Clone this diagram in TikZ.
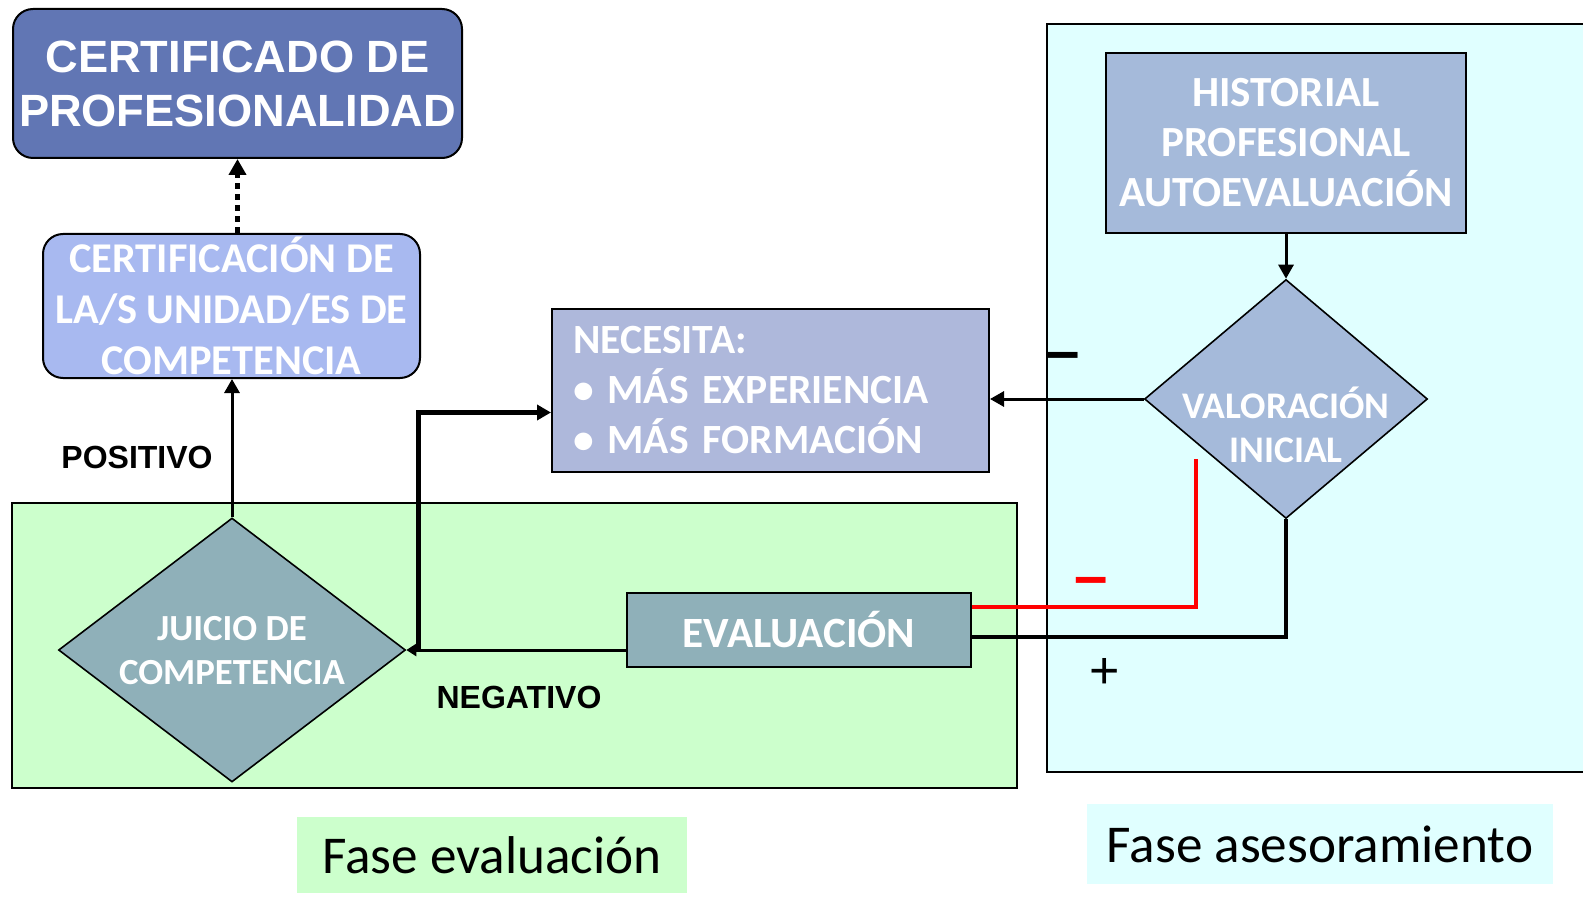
\documentclass[tikz,border=0pt]{standalone}
\usepackage{fontspec}
\setmainfont{Carlito}
\newfontfamily\arialfont{Liberation Sans}
\usepackage{tikz}
\usetikzlibrary{
    arrows.meta,
    shapes.geometric,
    calc,
    positioning
}
\definecolor{certblue}{RGB}{97,118,180}
\definecolor{unitblue}{RGB}{168,185,240}
\definecolor{tealgrey}{RGB}{143,176,185}
\definecolor{lavgrey}{RGB}{174,184,219}
\definecolor{histblue}{RGB}{165,186,218}
\definecolor{evalgreen}{RGB}{204,255,204}
\definecolor{advcyan}{RGB}{224,255,255}
\pgfdeclareradialshading{vignette}{\pgfpoint{0bp}{0bp}}{color(0bp)=(white); color(36bp)=(white); color(55bp)=(black!9); color(72bp)=(black!14)}
\tikzset{
    procbox/.style={draw=black, line width=1pt, inner sep=0pt, text=white, align=center},
    decision/.style={diamond, draw=black, line width=0.8pt, inner sep=0pt},
    wtext/.style={text=white, align=center, inner sep=0pt},
    flow/.style={line width=1.5pt, -{Triangle[length=7pt, width=7.5pt]}},
    tag/.style={inner sep=0pt, font=\arialfont\bfseries\fontsize{16}{18}\selectfont},
    sign/.style={inner sep=0pt, font=\arialfont\bfseries\fontsize{30}{32}\selectfont}
}

\begin{document}
\begin{tikzpicture}[x=0.5pt, y=-0.5pt]
                                \useasboundingbox (0,0) rectangle (1583,903);
                                \clip (0,0) rectangle (1583,903);
                                \path[shading=vignette] (0,0) rectangle (1583,903);
                                % fases
                                \draw[fill=evalgreen, line width=0.75pt] (12,503) rectangle (1017,788);
                                \fill[advcyan] (1047,24) rectangle (1583,772);
                                \draw[line width=0.75pt] (1583,24) -- (1047,24) -- (1047,772) -- (1583,772);
                                \node[fill=evalgreen, minimum width=195pt, minimum height=38pt, inner sep=0pt,
                                    font=\fontsize{26.6}{30}\selectfont] (faseeval) at (492,855) {Fase evaluación};
                                \node[fill=advcyan, minimum width=233pt, minimum height=40pt, inner sep=0pt,
                                    font=\fontsize{26.6}{30}\selectfont] (faseases) at (1320,844) {Fase asesoramiento};
                                % cajas
                                \node[procbox, fill=certblue, rounded corners=10pt, minimum width=224.5pt, minimum height=74.5pt,
                                    font=\arialfont\bfseries\fontsize{22.6}{27}\selectfont] (cert) at (237.5,83.5)
                                    {CERTIFICADO DE\\PROFESIONALIDAD};
                                \node[procbox, fill=unitblue, rounded corners=10pt, minimum width=188.5pt, minimum height=72pt,
                                    font=\bfseries\fontsize{21.2}{25.5}\selectfont] (unit) at (231.5,306)
                                    {CERTIFICACIÓN DE\\LA/S UNIDAD/ES DE\\COMPETENCIA};
                                \node[procbox, fill=lavgrey, minimum height=81.5pt, text width=197.5pt, inner xsep=10.5pt,
                                    align=left, font=\bfseries\fontsize{20.8}{25}\selectfont] (necesita) at (770.5,390.5)
                                    {NECESITA:\\• MÁS EXPERIENCIA\\• MÁS FORMACIÓN};
                                \node[procbox, fill=histblue, minimum width=180pt, minimum height=90pt,
                                    font=\bfseries\fontsize{21.5}{25}\selectfont] (hist) at (1286,143)
                                    {HISTORIAL\\PROFESIONAL\\AUTOEVALUACIÓN};
                                \node[procbox, fill=tealgrey, minimum width=172pt, minimum height=37pt,
                                    font=\bfseries\fontsize{21.6}{25}\selectfont] (eval) at (799,630) {EVALUACIÓN};
                                % rombos
                                \node[decision, fill=tealgrey, minimum width=173.5pt, minimum height=132pt] (juicio) at (232,650) {};
                                \node[wtext, font=\bfseries\fontsize{18.4}{22}\selectfont] (juiciotxt) at (232,651) {JUICIO DE\\COMPETENCIA};
                                \node[decision, fill=histblue, minimum width=141.5pt, minimum height=119.5pt] (valor) at (1286,399) {};
                                \node[wtext, font=\bfseries\fontsize{18.8}{22}\selectfont] (valortxt) at (1286,425) {VALORACIÓN\\INICIAL};
                                % flechas
                                \draw[flow, line width=2.5pt, dash pattern=on 3pt off 2.5pt,
                                    -{Triangle[length=8pt, width=8.5pt]}] (cert.south |- unit.north) -- (cert.south);
                                \draw[flow] (juicio.north) -- (juicio.north |- unit.south);
                                \draw[flow] (hist.south) -- (valor.north);
                                \draw[flow] (valor.west) -- (valor.west -| necesita.east);
                                \draw[flow, -{Triangle[length=5pt, width=6pt]}] (eval.west |- juicio.east) -- (juicio.east);
                                \draw[flow, line width=2.5pt] ($(juicio.east)+(12,0)$) |- ($(necesita.west)+(0,22)$);
                                \coordinate (redend) at (1196,459);
                                \draw[red, line width=2pt] ($(eval.east)+(0,-23)$) -| (redend);
                                \draw[line width=2pt] ($(eval.east)+(0,7)$) -| (valor.south);
                                % textos
                                \node[tag] (positivo) at (137,457) {POSITIVO};
                                \node[tag] (negativo) at (519,697) {NEGATIVO};
                                \node[sign] (menos) at (1063,362) {–};
                                \node[sign, text=red] (menosrojo) at (1091,587) {–};
                                \node[sign, font=\arialfont\fontsize{26}{28}\selectfont] (mas) at (1105,673) {+};
                            \end{tikzpicture}
\end{document}
